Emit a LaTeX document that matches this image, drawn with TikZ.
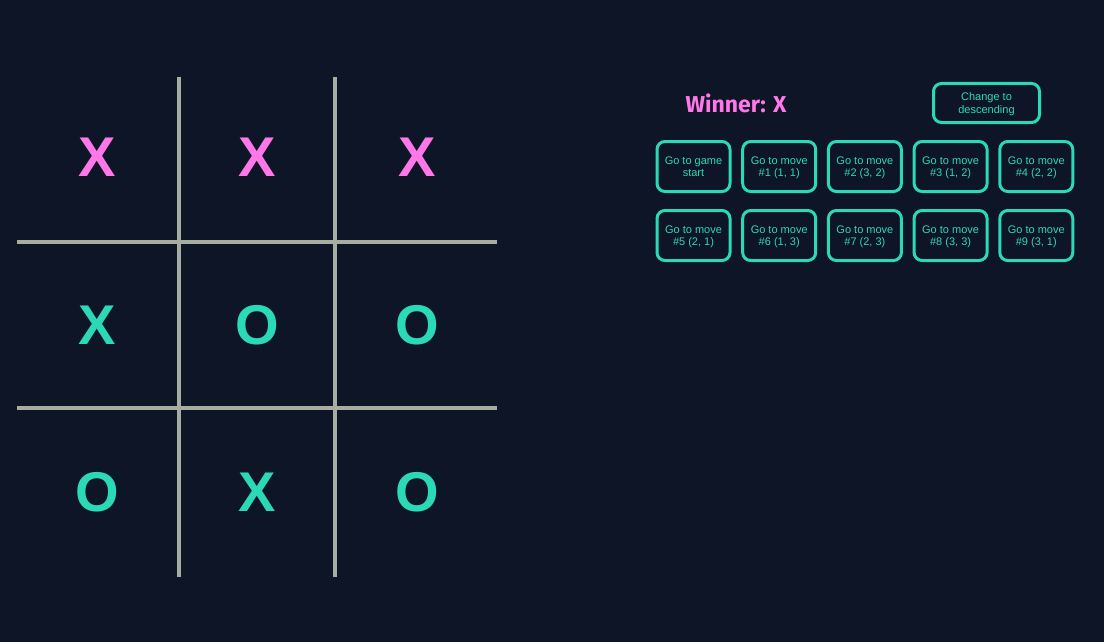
\documentclass[tikz,border=0pt]{standalone}
\usepackage{fontspec}
\usepackage{xcolor}
\setmainfont{Liberation Sans}
\newfontfamily\winfont{Fira Sans}
\usetikzlibrary{positioning}
\definecolor{bg}{HTML}{0D1526}
\definecolor{pink}{HTML}{FF77E9}
\definecolor{teal}{HTML}{2BD9B9}
\definecolor{gridline}{HTML}{A8ADA2}

\begin{document}
\begin{tikzpicture}[x=1pt, y=-1pt, node distance = 9.7pt and 9.7pt]
        \tikzset{cellx/.style={text=pink,font=\fontsize{56}{56}\selectfont\bfseries},
                 cello/.style={text=teal,font=\fontsize{56}{56}\selectfont\bfseries},
                 btn/.style={draw=teal,line width=3pt,rounded corners=8pt,text=teal,
                   minimum width=73pt,minimum height=50pt,inner sep=0pt,align=center,
                   text depth=0pt,font=\fontsize{11}{12.3}\selectfont}}
        \fill[bg] (0,0) rectangle (1104,642);

        % board
        \draw[gridline,line width=4pt] (17,241.5) -- (497,241.5);
        \draw[gridline,line width=4pt] (17,408) -- (497,408);
        \draw[gridline,line width=4pt] (179,77) -- (179,577);
        \draw[gridline,line width=4pt] (335,77) -- (335,577);

        \node[cellx] (c11) at (97,157) {X};
        \node[cellx] (c12) at (257,157) {X};
        \node[cellx] (c13) at (417,157) {X};
        \node[cello] (c21) at (97,325) {X};
        \node[cello] (c22) at (257,325) {O};
        \node[cello] (c23) at (417,325) {O};
        \node[cello] (c31) at (97,492) {O};
        \node[cello] (c32) at (257,492) {X};
        \node[cello] (c33) at (417,492) {O};

        % status and history
        \node[text=pink,font=\winfont\fontsize{23}{23}\selectfont\bfseries] (winner) at (736,103) {Winner: X};
        \node[btn,minimum width=106pt,minimum height=39pt] (order) at (986.5,103) {Change to\\descending};

        \node[btn] (m0) at (693.5,166.5) {Go to game\\start};
        \node[btn] (m1) [right = of m0] {Go to move\\\#1 (1, 1)};
        \node[btn] (m2) [right = of m1] {Go to move\\\#2 (3, 2)};
        \node[btn] (m3) [right = of m2] {Go to move\\\#3 (1, 2)};
        \node[btn] (m4) [right = of m3] {Go to move\\\#4 (2, 2)};

        \node[btn] (m5) [below = 16pt of m0] {Go to move\\\#5 (2, 1)};
        \node[btn] (m6) [right = of m5] {Go to move\\\#6 (1, 3)};
        \node[btn] (m7) [right = of m6] {Go to move\\\#7 (2, 3)};
        \node[btn] (m8) [right = of m7] {Go to move\\\#8 (3, 3)};
        \node[btn] (m9) [right = of m8] {Go to move\\\#9 (3, 1)};
    \end{tikzpicture}
\end{document}
